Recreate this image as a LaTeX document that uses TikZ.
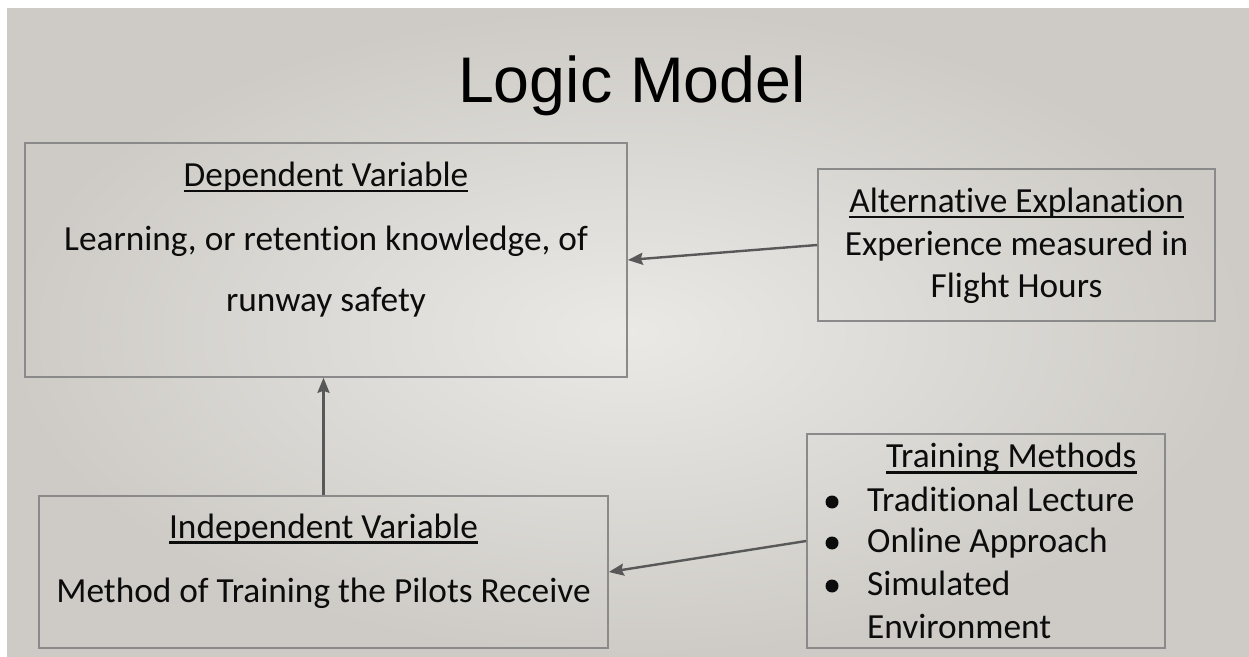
\documentclass[tikz,border=0pt]{standalone}
\usepackage{fontspec}
\setmainfont{Carlito}[RawFeature={-liga}]
\newfontfamily\titlefont{Liberation Sans}
\usetikzlibrary{arrows.meta}
\definecolor{bgin}{RGB}{234,233,230}
\definecolor{bgout}{RGB}{206,203,198}
\definecolor{txt}{RGB}{12,12,12}
\definecolor{boxline}{RGB}{138,138,138}
\definecolor{arr}{RGB}{88,88,88}
\newcommand\myul[1]{\setbox0\hbox{#1}\rlap{\rule[-5.5pt]{\wd0}{2.2pt}}\box0}
\tikzset{
  box/.style={draw=boxline, line width=1.6pt, inner sep=0pt, rectangle},
  line/.style={anchor=base, inner sep=0pt, text=txt, font=\fontsize{35.3}{40}\selectfont},
  lline/.style={line, anchor=base west},
  conn/.style={draw=arr, line width=2.4pt, -{Stealth[length=15pt,width=12pt,inset=2pt]}},
}
\begin{document}
\begin{tikzpicture}[x=1pt,y=1pt]
\useasboundingbox (0,0) rectangle (1249,656);
\fill[white] (0,0) rectangle (1249,656);
\shade[inner color=bgin, outer color=bgout] (7,0) rectangle (1249,647);

\node[anchor=base, inner sep=0pt, text=black, font=\titlefont\fontsize{64.5}{70}\selectfont] (title) at (632,553) {Logic Model};

\node[box, minimum width=602pt, minimum height=234pt] (dep) at (326,396) {};
\node[box, minimum width=397pt, minimum height=152pt] (alt) at (1016.5,411) {};
\node[box, minimum width=569pt, minimum height=152pt] (ind) at (323.5,84) {};
\node[box, minimum width=358pt, minimum height=214pt] (trn) at (986,115) {};

\node[line] (d1) at (326,469) {\myul{Dependent Variable}};
\node[line] (d2) at (326,405) {Learning, or retention knowledge, of};
\node[line] (d3) at (326,344) {runway safety};

\node[line] (a1) at (1016.5,443) {\myul{Alternative Explanation}};
\node[line] (a2) at (1016.5,400) {Experience measured in};
\node[line] (a3) at (1016.5,358) {Flight Hours};

\node[line] (i1) at (323.5,118) {\myul{Independent Variable}};
\node[line] (i2) at (323.5,54) {Method of Training the Pilots Receive};

\node[lline] (m0) at (886,188) {\myul{Training Methods}};
\node[lline] (m1) at (867,145) {Traditional Lecture};
\node[lline] (m2) at (867,104) {Online Approach};
\node[lline] (m3) at (867,61) {Simulated};
\node[lline] (m4) at (867,18) {Environment};
\foreach \y in {145,104,61} \fill[txt] (832,\y+9) circle (6.5pt);

\draw[conn] (alt.west) -- (dep.east);
\draw[conn] (ind.north) -- (ind.north |- dep.south);
\draw[conn] (trn.west) -- (ind.east);
\end{tikzpicture}
\end{document}
